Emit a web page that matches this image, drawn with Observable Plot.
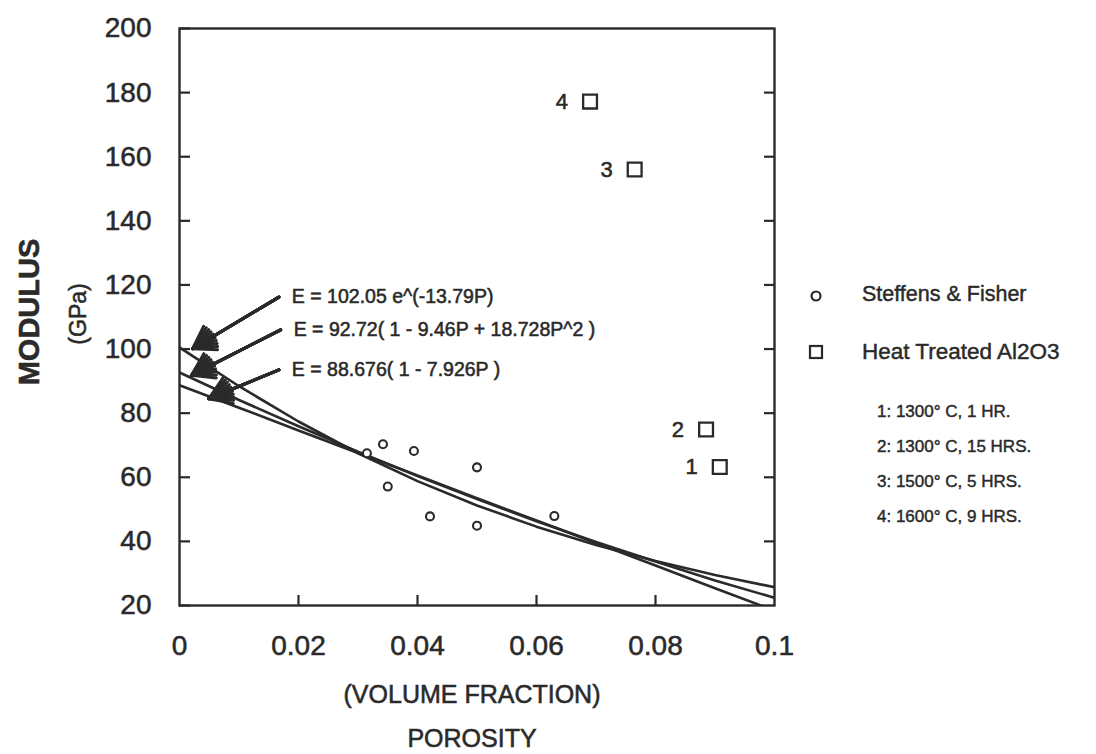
<!DOCTYPE html>
<html>
<head>
<meta charset="utf-8">
<script src="https://cdn.jsdelivr.net/npm/d3@7"></script>
<script src="https://cdn.jsdelivr.net/npm/@observablehq/plot@0.6"></script>
<style>
  body { margin: 0; background: #fff; }
  #wrap { position: relative; width: 1096px; height: 754px; font-family: "Liberation Sans", Arial, Helvetica, sans-serif; color: #2a2a2a; }
  #wrap svg text { stroke: #2a2a2a; stroke-width: 0.55px; paint-order: stroke; }
  .leg { position: absolute; white-space: nowrap; -webkit-text-stroke: 0.45px #2a2a2a; }
  svg.sym { position: absolute; overflow: visible; }
</style>
</head>
<body>
<div id="wrap"></div>
<script>
// ---- data ----
const xTicks = [0, 0.02, 0.04, 0.06, 0.08, 0.1];
const yTicks = [20, 40, 60, 80, 100, 120, 140, 160, 180, 200];

// Steffens & Fisher (circles)
const steffensPorosity = [0.0315, 0.0342, 0.0394, 0.0500, 0.0350, 0.0421, 0.0500, 0.0630];
const steffensModulus  = [67.5, 70.3, 68.2, 63.1, 57.1, 47.8, 44.9, 47.9];

// Heat treated Al2O3 (squares)
const heatPorosity = [0.0908, 0.0885, 0.0765, 0.0690];
const heatModulus  = [63.2, 74.9, 156.0, 177.2];
const heatLabels   = ["1", "2", "3", "4"];

// fitted curves, read along the porosity axis
const fitPorosity = [0, 0.01, 0.02, 0.03, 0.04, 0.05, 0.06, 0.07, 0.08, 0.09, 0.1];
const fitExp    = [100.5, 88.4, 77.4, 67.5, 58.8, 51.2, 44.6, 38.9, 33.9, 29.5, 25.7];
const fitQuad   = [92.7, 84.1, 75.9, 68.0, 60.4, 53.2, 46.3, 39.8, 33.7, 27.8, 22.4];
const fitLinear = [88.7, 81.7, 74.6, 67.6, 60.6, 53.5, 46.5, 39.5, 32.5, 25.4, 18.4];

// equation annotations (arrow tail -> tip)
const eqText  = ["E = 102.05 e^(-13.79P)", "E = 92.72( 1 - 9.46P + 18.728P^2 )", "E = 88.676( 1 - 7.926P )"];
const eqTailX = [0.0167, 0.0170, 0.0167];
const eqTailY = [116.2, 106.0, 93.5];
const eqTipX  = [0.0022, 0.0020, 0.0049];
const eqTipY  = [100.1, 91.8, 84.5];

const legendNames = ["Steffens & Fisher", "Heat Treated Al2O3"];
const treatments  = ["1: 1300° C, 1 HR.", "2: 1300° C, 15 HRS.", "3: 1500° C, 5 HRS.", "4: 1600° C, 9 HRS."];

// ---- build ----
const ink = "#2a2a2a";
const font = "'Liberation Sans', Arial, Helvetica, sans-serif";
const steffens = steffensPorosity.map((p, i) => ({p, m: steffensModulus[i]}));
const heat = heatPorosity.map((p, i) => ({p, m: heatModulus[i], label: heatLabels[i]}));
const fits = [fitExp, fitQuad, fitLinear];
const eqs = eqText.map((t, i) => ({t, x1: eqTailX[i], y1: eqTailY[i], x2: eqTipX[i], y2: eqTipY[i]}));

const arrowFan = [66, 52, 38, 24, 10, 0].map(a =>
  Plot.arrow(eqs, {x1: "x1", y1: "y1", x2: "x2", y2: "y2", stroke: ink, strokeWidth: 3, headAngle: a, headLength: 12.5})
);

const chart = Plot.plot({
  width: 1096, height: 754,
  marginLeft: 179, marginRight: 322, marginTop: 28, marginBottom: 149,
  style: {fontFamily: font, color: ink, background: "transparent"},
  x: {domain: [0, 0.1]},
  y: {domain: [20, 200]},
  marks: [
    Plot.axisY(yTicks, {anchor: "left", tickSize: 0, tickPadding: 28, fontSize: 28, label: null}),
    Plot.axisY(yTicks, {anchor: "left", tickSize: -11, fill: "none", strokeWidth: 2.2, label: null}),
    Plot.axisY(yTicks.slice(1, -1), {anchor: "right", tickSize: -11, fill: "none", strokeWidth: 2.2, label: null}),
    Plot.axisX(xTicks, {anchor: "bottom", tickSize: 0, tickPadding: 30, fontSize: 28, tickFormat: d => String(d), label: null}),
    Plot.axisX(xTicks.slice(1, -1), {anchor: "bottom", tickSize: -10, fill: "none", strokeWidth: 2.2, label: null}),
    Plot.frame({stroke: ink, strokeWidth: 2.4}),
    ...fits.map(f => Plot.line(fitPorosity, {x: d => d, y: (d, i) => f[i], stroke: ink, strokeWidth: 2.6, clip: true})),
    Plot.dot(steffens, {x: "p", y: "m", r: 4, stroke: ink, strokeWidth: 2.1, fill: "white"}),
    Plot.dot(heat, {x: "p", y: "m", symbol: "square", r: 7.8, stroke: ink, strokeWidth: 2.3, fill: "white"}),
    Plot.text(heat, {x: "p", y: "m", text: "label", textAnchor: "end", dx: -22, fontSize: 22, fill: ink}),
    ...arrowFan,
    Plot.text(eqs, {x: "x1", y: "y1", text: "t", textAnchor: "start", dx: 13, fontSize: 19.5, fill: ink}),
    Plot.text(["(VOLUME FRACTION)"], {text: d => d, frameAnchor: "bottom", dy: 89, dx: -5, fontSize: 25, lineAnchor: "middle", fill: ink}),
    Plot.text(["POROSITY"], {text: d => d, frameAnchor: "bottom", dy: 133, dx: -5, fontSize: 25, lineAnchor: "middle", fill: ink}),
    Plot.text(["MODULUS"], {text: d => d, frameAnchor: "left", textAnchor: "middle", rotate: -90, dx: -150, dy: -5, fontSize: 29, fontWeight: 900, lineAnchor: "middle", fill: ink}),
    Plot.text(["(GPa)"], {text: d => d, frameAnchor: "left", textAnchor: "middle", rotate: -90, dx: -101, dy: -3, fontSize: 23, lineAnchor: "middle", fill: ink})
  ]
});

const wrap = document.getElementById("wrap");
wrap.appendChild(chart);

// ---- legend (HTML, right of the plot) ----
function addText(txt, left, centerY, size) {
  const d = document.createElement("div");
  d.className = "leg";
  d.textContent = txt;
  d.style.left = left + "px";
  d.style.top = (centerY - size * 0.6) + "px";
  d.style.fontSize = size + "px";
  d.style.lineHeight = (size * 1.2) + "px";
  wrap.appendChild(d);
}
function addSymbol(kind, cx, cy) {
  const ns = "http://www.w3.org/2000/svg";
  const s = document.createElementNS(ns, "svg");
  s.setAttribute("class", "sym");
  s.setAttribute("width", 20); s.setAttribute("height", 20);
  s.style.left = (cx - 10) + "px"; s.style.top = (cy - 10) + "px";
  let el;
  if (kind === "circle") {
    el = document.createElementNS(ns, "circle");
    el.setAttribute("cx", 10); el.setAttribute("cy", 10); el.setAttribute("r", 4.5);
  } else {
    el = document.createElementNS(ns, "rect");
    el.setAttribute("x", 4); el.setAttribute("y", 4); el.setAttribute("width", 12); el.setAttribute("height", 12);
  }
  el.setAttribute("fill", "none"); el.setAttribute("stroke", ink); el.setAttribute("stroke-width", 2.2);
  s.appendChild(el);
  wrap.appendChild(s);
}
addSymbol("circle", 816, 296);
addText(legendNames[0], 862, 295, 21.5);
addSymbol("square", 816, 352);
addText(legendNames[1], 862, 351, 22.5);
const subY = [412, 447, 482, 517];
treatments.forEach((t, i) => addText(t, 877, subY[i], 17));
</script>
</body>
</html>
